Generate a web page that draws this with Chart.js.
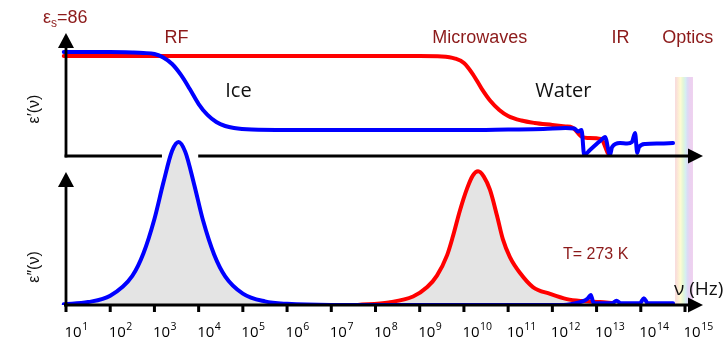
<!DOCTYPE html>
<html><head><meta charset="utf-8">
<script src="https://cdn.jsdelivr.net/npm/chart.js@4.4.1/dist/chart.umd.min.js"></script>
<style>html,body{margin:0;padding:0;background:#fff;}#wrap{width:723px;height:342px;position:relative;}</style>
</head><body><div id="wrap"><canvas id="c" width="723" height="342"></canvas></div>
<script>
// x values are log10(frequency / Hz)
const tickExponents = [1,2,3,4,5,6,7,8,9,10,11,12,13,14,15];
const regionNames = ['RF','Microwaves','IR','Optics'];
const regionLogF = [3.50, 10.36, 13.54, 15.06];
const opticsBandLogF = [14.775, 15.18];

// eps' (top panel) — ice (blue)
const iceRealLogF = [0.95,2.0,2.5,2.75,3.0,3.2,3.4,3.6,3.8,4.0,4.2,4.4,4.6,4.8,5.2,6,8,10,11,11.8,12.3,12.5,12.58,12.66,12.72,12.85,13.0,13.1,13.19,13.305,13.35,13.53,13.69,13.8,13.87,13.92,13.96,14.1,14.44,14.73];
const iceReal     = [89.4,89.4,89.0,88.6,87.7,84.7,79.1,69.7,57.6,44.7,35.3,29.2,25.8,24.1,22.8,22.4,22.4,22.4,22.8,23.2,24.1,23.7,21.1,22.4,0.9,5.2,10.3,13.6,16.3,0.9,7.7,11.2,10.7,12.0,19.8,2.6,7.7,10.3,10.7,11.2];
// eps' (top panel) — water (red)
const waterRealLogF = [0.95,9.0,9.5,9.8,10.0,10.2,10.4,10.6,10.8,11.0,11.3,11.6,12.0,12.3,12.45,12.68,12.8,13.1,13.25];
const waterReal     = [86,86,85.6,83.8,80.0,70.5,58.0,47.3,39.6,34.4,30.5,28.4,26.7,25.4,24.5,16.3,15.5,14.6,2.6];

// eps'' (bottom panel) — ice (blue)
const iceLossLogF = [0.95,1.5,2.0,2.5,2.75,3.0,3.2,3.4,3.545,3.7,3.9,4.1,4.35,4.6,5.0,5.5,6.0,7.0,12.2,12.5,12.7,12.8,12.87,12.92,12.97,13.35,13.45,13.55,13.98,14.07,14.16,14.73];
const iceLoss     = [0.2,0.9,2.85,8.95,15.8,26.4,37.4,47.3,50,46.9,36.9,25.9,15.5,8.8,3.5,1.1,0.35,0,0,0.5,1.2,2.0,3.1,1.0,0.5,0.5,1.3,0.5,0.5,2.1,0.5,0.5];
// eps'' (bottom panel) — water (red)
const waterLossLogF = [7.6,8.3,8.85,9.17,9.39,9.62,9.75,9.91,10.07,10.2,10.32,10.45,10.59,10.75,10.88,11.04,11.27,11.56,11.95,12.33,12.69,13.08,13.37];
const waterLoss     = [0,0.8,2.6,5.5,9.0,15.3,21.0,29.0,35.7,39.7,41.0,39.4,35.3,27.3,20.2,14.7,9.8,5.5,3.4,1.8,1.2,0.9,0.6];

const pts = (xs, ys) => xs.map((x, i) => ({x, y: ys[i]}));
const BLUE = '#0000ff', RED = '#ff0000', DARKRED = '#8c1a1a', FILL = '#e4e4e4';

const overlay = {
  id: 'overlay',
  beforeDatasetsDraw(chart) {
    const {ctx, scales: {x, yTop, yBot}} = chart;
    const x0 = x.getPixelForValue(opticsBandLogF[0]), x1 = x.getPixelForValue(opticsBandLogF[1]);
    const g = ctx.createLinearGradient(x0, 0, x1, 0);
    g.addColorStop(0, '#f8d8dc'); g.addColorStop(0.15, '#fce8d6'); g.addColorStop(0.3, '#fffbd2');
    g.addColorStop(0.45, '#e3f6d6'); g.addColorStop(0.58, '#d6eff0'); g.addColorStop(0.7, '#dcdaf5');
    g.addColorStop(0.82, '#ead2f1'); g.addColorStop(1, '#efd0ef');
    ctx.save(); ctx.fillStyle = g;
    ctx.fillRect(x0, 77, x1 - x0, yBot.getPixelForValue(0) - 77);
    ctx.restore();
  },
  afterDatasetsDraw(chart) {
    const {ctx, scales: {x, yTop, yBot}} = chart;
    const ax = x.getPixelForValue(1);
    const yt = yTop.getPixelForValue(0), yb = yBot.getPixelForValue(0);
    const tipX = 703;
    ctx.save();
    ctx.strokeStyle = '#000'; ctx.fillStyle = '#000'; ctx.lineWidth = 2.8; ctx.lineCap = 'butt';
    ctx.beginPath(); ctx.moveTo(ax, yt + 1.4); ctx.lineTo(ax, 46); ctx.stroke();
    ctx.beginPath(); ctx.moveTo(ax, yb + 1.4); ctx.lineTo(ax, 185); ctx.stroke();
    const upArrow = (tx, ty) => { ctx.beginPath(); ctx.moveTo(tx, ty); ctx.lineTo(tx - 8, ty + 15); ctx.lineTo(tx + 8, ty + 15); ctx.closePath(); ctx.fill(); };
    const rightArrow = (tx, ty) => { ctx.beginPath(); ctx.moveTo(tx, ty); ctx.lineTo(tx - 15, ty - 7.5); ctx.lineTo(tx - 15, ty + 7.5); ctx.closePath(); ctx.fill(); };
    upArrow(ax, 33); upArrow(ax, 172);
    ctx.beginPath(); ctx.moveTo(ax - 1.4, yt); ctx.lineTo(x.getPixelForValue(3.17), yt); ctx.stroke();
    ctx.beginPath(); ctx.moveTo(x.getPixelForValue(3.99), yt); ctx.lineTo(tipX - 10, yt); ctx.stroke();
    rightArrow(tipX, yt);
    ctx.beginPath(); ctx.moveTo(ax - 2, yb); ctx.lineTo(tipX - 10, yb); ctx.stroke();
    rightArrow(tipX, yb);
    tickExponents.forEach(e => {
      const px = x.getPixelForValue(e);
      ctx.fillRect(px - 1.5, yb, 3, 7);
      ctx.font = '15px "Open Sans"'; ctx.textAlign = 'left'; ctx.textBaseline = 'alphabetic';
      ctx.fillText('10', px - 1.5, 337);
      const w = ctx.measureText('10').width;
      ctx.font = '10.5px "Open Sans"';
      ctx.fillText(String(e), px - 1.5 + w + 0.5, 329.5);
    });
    ctx.fillStyle = DARKRED; ctx.textAlign = 'center';
    ctx.font = '18px "Liberation Sans"';
    regionNames.forEach((n, i) => ctx.fillText(n, x.getPixelForValue(regionLogF[i]), 43));
    ctx.textAlign = 'left';
    ctx.font = '18px "Liberation Sans"'; ctx.fillText('ε', 43, 23);
    let w1 = ctx.measureText('ε').width;
    ctx.font = '12px "Liberation Sans"'; ctx.fillText('s', 43 + w1, 26.5);
    let w2 = ctx.measureText('s').width;
    ctx.font = '18px "Liberation Sans"'; ctx.fillText('=86', 43 + w1 + w2, 23);
    ctx.font = '16px "Liberation Sans"'; ctx.textAlign = 'center';
    ctx.fillText('T= 273 K', x.getPixelForValue(12.98), 259);
    ctx.fillStyle = '#111'; ctx.font = '20px "Open Sans"';
    ctx.fillText('Ice', x.getPixelForValue(4.90), 97);
    ctx.fillText('Water', x.getPixelForValue(12.25), 97);
    ctx.textAlign = 'left'; ctx.font = '19px "Open Sans"';
    ctx.fillText('ν (Hz)', 674, 295);
    ctx.font = '16px "Liberation Sans"'; ctx.textAlign = 'center'; ctx.textBaseline = 'middle';
    ctx.save(); ctx.translate(35, 109); ctx.rotate(-Math.PI / 2); ctx.fillText('ε′(ν)', 0, 0); ctx.restore();
    ctx.save(); ctx.translate(35, 267); ctx.rotate(-Math.PI / 2); ctx.fillText('ε″(ν)', 0, 0); ctx.restore();
    ctx.restore();
  }
};

new Chart(document.getElementById('c'), {
  type: 'line',
  data: {
    datasets: [
      {label: 'Ice ε′', data: pts(iceRealLogF, iceReal), yAxisID: 'yTop', borderColor: BLUE, fill: false},
      {label: 'Ice ε″', data: pts(iceLossLogF, iceLoss), yAxisID: 'yBot', borderColor: BLUE, fill: 'origin', backgroundColor: FILL},
      {label: 'Water ε′', data: pts(waterRealLogF, waterReal), yAxisID: 'yTop', borderColor: RED, fill: false},
      {label: 'Water ε″', data: pts(waterLossLogF, waterLoss), yAxisID: 'yBot', borderColor: RED, fill: 'origin', backgroundColor: FILL}
    ]
  },
  options: {
    responsive: false, animation: false, devicePixelRatio: 1,
    layout: {padding: {left: 60, right: 18, top: 25, bottom: 37}},
    plugins: {legend: {display: false}, tooltip: {enabled: false}, filler: {drawTime: 'beforeDatasetsDraw'}},
    elements: {point: {radius: 0}, line: {borderWidth: 4, cubicInterpolationMode: 'monotone', borderJoinStyle: 'round', borderCapStyle: 'round'}},
    scales: {
      x: {type: 'linear', min: 0.8643, max: 15.4524, display: false},
      yTop: {type: 'linear', position: 'left', min: -128.14, max: 112.66, display: false},
      yBot: {type: 'linear', position: 'left', min: 0, max: 85.89, display: false}
    }
  },
  plugins: [overlay]
});
</script></body></html>
